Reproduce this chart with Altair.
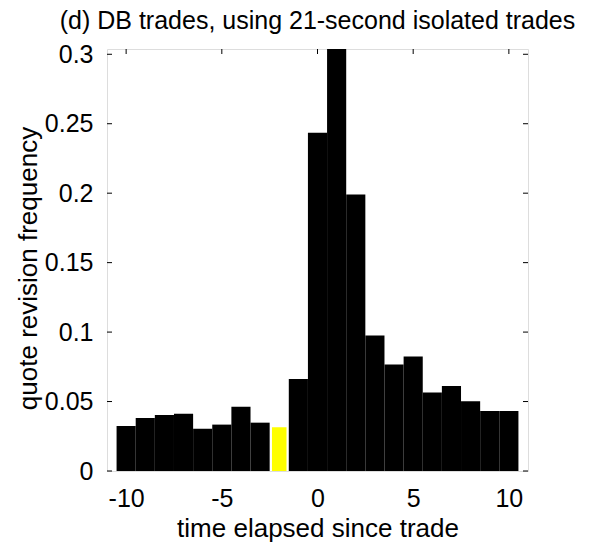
import altair as alt
import pandas as pd

# data
times = list(range(-10, 11))
freq = [0.0324, 0.0382, 0.0403, 0.0413, 0.0305, 0.0334, 0.0463, 0.0348, 0.0315,
        0.0663, 0.2435, 0.330, 0.199, 0.0975, 0.0766, 0.0824, 0.0566, 0.0612,
        0.0502, 0.0432, 0.0432]
highlight_time = -2
x_ticks = [-10, -5, 0, 5, 10]
y_ticks = [0, 0.05, 0.1, 0.15, 0.2, 0.25, 0.3]

W, H = 421, 422
FONT = "Liberation Sans"
FS = 25
FT = 26

df = pd.DataFrame({"t": times, "f": freq})
half = [0.38 if t == highlight_time else 0.5 for t in times]
df["lo"] = df["t"] - half
df["hi"] = df["t"] + half
df["hl"] = ["yes" if t == highlight_time else "no" for t in df["t"]]

xs = alt.Scale(domain=[-11, 11], nice=False, zero=False)
ys = alt.Scale(domain=[0, 0.3038], nice=False, zero=True)

bars = alt.Chart(df).mark_bar(clip=True, strokeWidth=0).encode(
    x=alt.X("lo:Q", scale=xs,
            axis=alt.Axis(values=x_ticks, title="time elapsed since trade",
                          labelExpr="'' + datum.value", ticks=False, domain=False,
                          grid=False, labelPadding=15,
                          titleBaseline="alphabetic", titleY=65,
                          labelFont=FONT, labelFontSize=FS, titleFont=FONT,
                          titleFontSize=FT, titleFontWeight="normal",
                          labelColor="black", titleColor="black")),
    x2="hi:Q",
    y=alt.Y("f:Q", scale=ys,
            axis=alt.Axis(values=y_ticks, title="quote revision frequency",
                          format="~g", ticks=False, domain=False, grid=False,
                          labelPadding=14, titlePadding=3, titleY=219,
                          labelFont=FONT, labelFontSize=FS, titleFont=FONT,
                          titleFontSize=FT, titleFontWeight="normal",
                          labelColor="black", titleColor="black")),
    y2=alt.datum(0),
    color=alt.Color("hl:N", scale=alt.Scale(domain=["no", "yes"], range=["black", "#ffff00"]),
                    legend=None),
)

xt = pd.DataFrame({"v": x_ticks})
yt = pd.DataFrame({"v": y_ticks})
TL = 5
tick_style = dict(color="black", strokeWidth=1)

bt = alt.Chart(xt).mark_rule(**tick_style).encode(
    x=alt.X("v:Q", scale=xs), y=alt.value(H), y2=alt.value(H - TL))
tt = alt.Chart(xt).mark_rule(**tick_style).encode(
    x=alt.X("v:Q", scale=xs), y=alt.value(0), y2=alt.value(TL))
lt = alt.Chart(yt).mark_rule(**tick_style).encode(
    y=alt.Y("v:Q", scale=ys), x=alt.value(0), x2=alt.value(TL))
rt = alt.Chart(yt).mark_rule(**tick_style).encode(
    y=alt.Y("v:Q", scale=ys), x=alt.value(W), x2=alt.value(W - TL))

chart = alt.layer(bars, bt, tt, lt, rt).properties(
    width=W, height=H,
    title=alt.TitleParams("(d) DB trades, using 21-second isolated trades",
                          font=FONT, fontSize=FS, fontWeight="normal",
                          color="black", anchor="middle", frame="group", offset=8),
    autosize=alt.AutoSizeParams(type="none"),
    padding={"left": 99, "top": 41, "right": 54, "bottom": 71},
).configure_view(stroke="black", strokeWidth=1).configure(background="white")

chart.save("out.html", embed_options={"renderer": "svg", "actions": False})
